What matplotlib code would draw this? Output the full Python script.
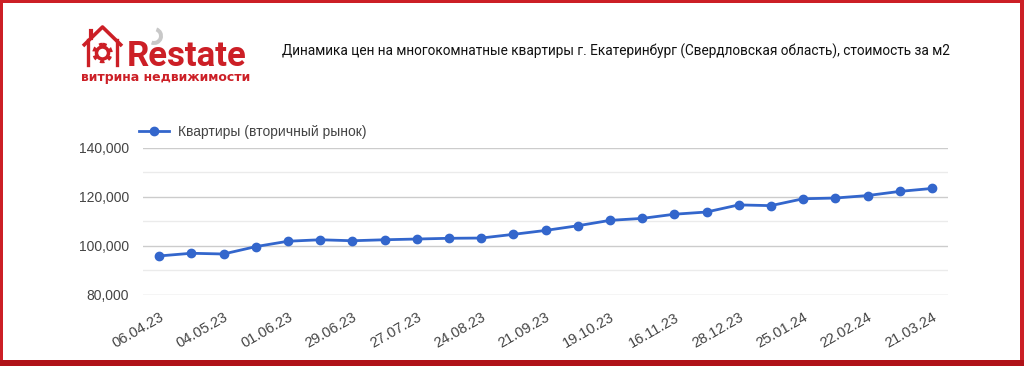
import numpy as np
import matplotlib
matplotlib.use("Agg")
import matplotlib.pyplot as plt
from matplotlib.patches import Rectangle, Circle, Wedge
from matplotlib.lines import Line2D
from matplotlib.ticker import MultipleLocator, FuncFormatter

# data
dates = ["06.04.23", "20.04.23", "04.05.23", "18.05.23", "01.06.23", "15.06.23",
         "29.06.23", "13.07.23", "27.07.23", "10.08.23", "24.08.23", "07.09.23",
         "21.09.23", "05.10.23", "19.10.23", "02.11.23", "16.11.23", "14.12.23",
         "28.12.23", "11.01.24", "25.01.24", "08.02.24", "22.02.24", "07.03.24",
         "21.03.24"]
prices = [95900, 97000, 96700, 99700, 101900, 102500, 102100, 102500, 102800,
          103100, 103200, 104700, 106300, 108200, 110400, 111200, 112900, 113800,
          116700, 116400, 119200, 119500, 120500, 122200, 123400]
series_name = "Квартиры (вторичный рынок)"
title = "Динамика цен на многокомнатные квартиры г. Екатеринбург (Свердловская область), стоимость за м2"

RED = "#cc1f26"
BLUE = "#3366cc"
W, H = 1024, 366

fig = plt.figure(figsize=(W / 100, H / 100), dpi=100)
fig.patch.set_facecolor("white")

# ---- main chart ----
ax = fig.add_axes([143 / W, 1 - 295 / H, (948 - 143) / W, (295 - 147.7) / H])
x = np.arange(len(dates))
ax.plot(x, prices, color=BLUE, linewidth=2, marker="o", markersize=6,
        label=series_name, zorder=3)
ax.set_xlim(-0.5, len(dates) - 0.5)
ax.set_ylim(80000, 140000)
ax.yaxis.set_major_locator(MultipleLocator(20000))
ax.yaxis.set_minor_locator(MultipleLocator(10000))
ax.yaxis.set_major_formatter(FuncFormatter(lambda v, p: f"{v:,.0f}"))
ax.grid(True, which="major", axis="y", color="#cccccc", linewidth=1)
ax.grid(True, which="minor", axis="y", color="#ebebeb", linewidth=1)
ax.set_axisbelow(True)
for s in ax.spines.values():
    s.set_visible(False)
ax.tick_params(axis="both", which="both", length=0)
ax.tick_params(axis="y", pad=10, labelsize=10, labelcolor="#444444")
ax.set_xticks(x[::2])
ax.set_xticklabels(dates[::2], rotation=30, ha="right", rotation_mode="anchor",
                   fontsize=10.5, color="#444444")
ax.tick_params(axis="x", pad=11)
for t in ax.get_xticklabels() + ax.get_yticklabels():
    t.set_family(["Liberation Sans", "DejaVu Sans"])

leg = ax.legend(loc="lower left", bbox_to_anchor=(-0.012, 1.02), frameon=False,
                handlelength=2.2, handletextpad=0.6, borderaxespad=0,
                prop={"family": ["Liberation Sans", "DejaVu Sans"], "size": 10})
for t in leg.get_texts():
    t.set_color("#444444")

# ---- overlay: frame, logo, title ----
ov = fig.add_axes([0, 0, 1, 1], zorder=-1)
ov.set_xlim(0, W)
ov.set_ylim(H, 0)
ov.axis("off")
ov.add_patch(Rectangle((0, 0), W, 3, color=RED, lw=0))
ov.add_patch(Rectangle((0, 0), 3, H, color=RED, lw=0))
ov.add_patch(Rectangle((W - 4, 0), 4, H, color=RED, lw=0))
ov.add_patch(Rectangle((0, H - 6), W, 6, color="#b01218", lw=0))

# house icon
ov.add_line(Line2D([83, 102.5, 122], [46, 27, 46], color=RED, lw=2.6,
                   solid_capstyle="butt"))
ov.add_line(Line2D([88, 88], [40, 65], color=RED, lw=2.4))
ov.add_line(Line2D([117, 117], [40, 65], color=RED, lw=2.4))
ov.add_line(Line2D([90.5, 90.5], [31, 38], color=RED, lw=3))
ov.add_patch(Circle((102.5, 53), 6, fill=False, ec=RED, lw=2.5))
ov.add_patch(Circle((102.5, 53), 8.5, fill=False, ec=RED, lw=2.5,
                    linestyle=(0, (1.2, 1.2))))
# grey crescent behind R
ov.add_patch(Wedge((154, 36), 9, -70, 110, width=4, color="#c8c8c8", lw=0))

ov.text(127, 66, "Restate", color=RED, fontsize=25, fontweight="bold",
        family=["Roboto", "DejaVu Sans"], va="baseline", ha="left")
ov.text(81, 81, "витрина недвижимости", color=RED, fontsize=9.0,
        fontweight="bold", family=["DejaVu Sans"], va="baseline", ha="left")

ov.text(950, 56, title, color="#111111", fontsize=9.8,
        family=["Roboto", "DejaVu Sans"], va="baseline", ha="right")

fig.savefig("out.png", dpi=100, facecolor="white")
